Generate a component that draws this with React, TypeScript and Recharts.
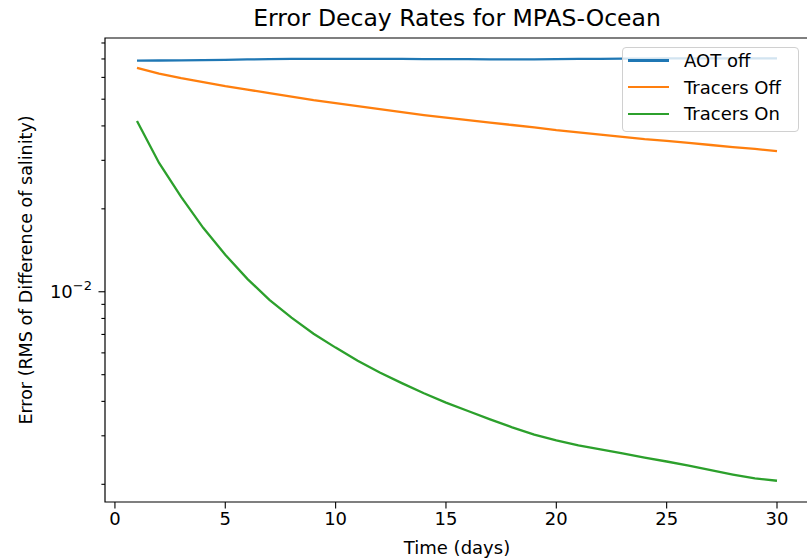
import { LineChart, Line, XAxis, YAxis, ReferenceArea, Legend } from "recharts";

const FONT = "DejaVu Sans, Verdana, sans-serif";

const DAYS = [1, 2, 3, 4, 5, 6, 7, 8, 9, 10, 11, 12, 13, 14, 15, 16, 17, 18, 19, 20, 21, 22, 23, 24, 25, 26, 27, 28, 29, 30];

const AOT_OFF = [
  0.069, 0.0691, 0.0692, 0.0693, 0.0695, 0.0697, 0.0699, 0.07, 0.0701, 0.0701,
  0.0701, 0.07, 0.07, 0.0699, 0.0699, 0.0699, 0.0698, 0.0698, 0.0698, 0.0699,
  0.07, 0.0701, 0.0702, 0.0702, 0.0703, 0.0703, 0.0703, 0.0703, 0.0703, 0.0703,
];

const TRACERS_OFF = [
  0.065, 0.0619, 0.0596, 0.0577, 0.0558, 0.0542, 0.0526, 0.0511, 0.0496, 0.0484,
  0.0472, 0.046, 0.0449, 0.0438, 0.0429, 0.042, 0.0411, 0.0403, 0.0395, 0.0386,
  0.0379, 0.0372, 0.0365, 0.0358, 0.0353, 0.0347, 0.0341, 0.0335, 0.033, 0.0324,
];

const TRACERS_ON = [
  0.04165, 0.02934, 0.02209, 0.01706, 0.01362, 0.01114, 0.00935, 0.00805, 0.00704, 0.00627,
  0.00562, 0.00509, 0.00466, 0.00428, 0.00396, 0.00369, 0.00344, 0.00322, 0.00303, 0.00289,
  0.00277, 0.00268, 0.00259, 0.0025, 0.00242, 0.00234, 0.00225, 0.00217, 0.0021, 0.00206,
];

const X_TICKS = [0, 5, 10, 15, 20, 25, 30];
const Y_MAJOR = [0.01];
const Y_MINOR = [0.002, 0.003, 0.004, 0.005, 0.006, 0.007, 0.008, 0.009, 0.02, 0.03, 0.04, 0.05, 0.06, 0.07, 0.08];

const SERIES = [
  { key: "aot", name: "AOT off", color: "#1f77b4", values: AOT_OFF },
  { key: "off", name: "Tracers Off", color: "#ff7f0e", values: TRACERS_OFF },
  { key: "on", name: "Tracers On", color: "#2ca02c", values: TRACERS_ON },
];

const X_DOMAIN = [-0.45, 31.45];
const Y_DOMAIN = [0.001725, 0.0834];

const data = DAYS.map((day, i) => {
  const row: Record<string, number> = { day };
  SERIES.forEach((s) => (row[s.key] = s.values[i]));
  return row;
});

const LEFT = 105;

function YTick({ y, payload }: any) {
  const major = Y_MAJOR.includes(payload.value);
  const len = major ? 6.5 : 3.6;
  return (
    <g>
      <line x1={LEFT - len} x2={LEFT} y1={y} y2={y} stroke="#000" strokeWidth={1.1} />
      {major && (
        <text x={LEFT - 13} y={y + 6} textAnchor="end" fontSize={18} fill="#000" fontFamily={FONT}>
          10
          <tspan dy={-8} fontSize={13}>
            −2
          </tspan>
        </text>
      )}
    </g>
  );
}

function LegendBox({ payload }: any) {
  return (
    <div
      style={{
        width: 177,
        height: 85,
        boxSizing: "border-box",
        border: "1px solid #d0d0d0",
        borderRadius: 4,
        background: "rgba(255,255,255,0.8)",
        fontFamily: FONT,
        fontSize: 18,
        color: "#000",
      }}
    >
      {(payload || []).map((p: any) => (
        <div key={p.value} style={{ height: 26.8, display: "flex", alignItems: "center", marginTop: p.value === "AOT off" ? -1 : 0 }}>
          <div style={{ width: 41, height: 2.5, background: p.color, marginLeft: 5, marginRight: 15 }} />
          <span>{p.value}</span>
        </div>
      ))}
    </div>
  );
}

export default function App() {
  return (
    <div style={{ position: "absolute", left: 0, top: 0, width: 807, height: 558, overflow: "hidden", background: "#fff" }}>
      <div
        style={{
          position: "absolute",
          left: LEFT,
          width: 704,
          top: 0,
          lineHeight: "36px",
          textAlign: "center",
          fontFamily: FONT,
          fontSize: 23.5,
          color: "#000",
        }}
      >
        Error Decay Rates for MPAS-Ocean
      </div>
      <LineChart width={820} height={558} data={data} margin={{ top: 38, right: 11, bottom: 0, left: 0 }}>
        <XAxis
          dataKey="day"
          type="number"
          domain={X_DOMAIN}
          allowDataOverflow
          ticks={X_TICKS}
          interval={0}
          height={56}
          axisLine={false}
          tickSize={6.5}
          tickMargin={4}
          tickLine={{ stroke: "#000", strokeWidth: 1.1 }}
          tick={{ fill: "#000", fontSize: 18, fontFamily: FONT }}
          label={{
            content: () => (
              <text x={457} y={547} textAnchor="middle" dominantBaseline="central" fontSize={18} fontFamily={FONT} fill="#000">
                Time (days)
              </text>
            ),
          }}
        />
        <YAxis
          scale="log"
          type="number"
          domain={Y_DOMAIN}
          allowDataOverflow
          ticks={[...Y_MINOR, ...Y_MAJOR]}
          interval={0}
          width={LEFT}
          axisLine={false}
          tickLine={false}
          tick={<YTick />}
          label={{
            content: () => (
              <text
                x={26}
                y={270}
                transform="rotate(-90, 26, 270)"
                textAnchor="middle"
                dominantBaseline="central"
                fontSize={17.5}
                fontFamily={FONT}
                fill="#000"
              >
                Error (RMS of Difference of salinity)
              </text>
            ),
          }}
        />
        {SERIES.map((s) => (
          <Line
            key={s.key}
            type="linear"
            dataKey={s.key}
            name={s.name}
            stroke={s.color}
            strokeWidth={2.3}
            dot={false}
            isAnimationActive={false}
          />
        ))}
        <ReferenceArea
          x1={X_DOMAIN[0]}
          x2={X_DOMAIN[1]}
          y1={Y_DOMAIN[0]}
          y2={Y_DOMAIN[1]}
          fill="none"
          fillOpacity={0}
          stroke="#000"
          strokeWidth={1.2}
          ifOverflow="visible"
        />
        <Legend
          layout="horizontal"
          verticalAlign="middle"
          align="center"
          wrapperStyle={{ top: 47, left: 622, width: 177, height: 85 }}
          content={<LegendBox />}
        />
      </LineChart>
    </div>
  );
}
